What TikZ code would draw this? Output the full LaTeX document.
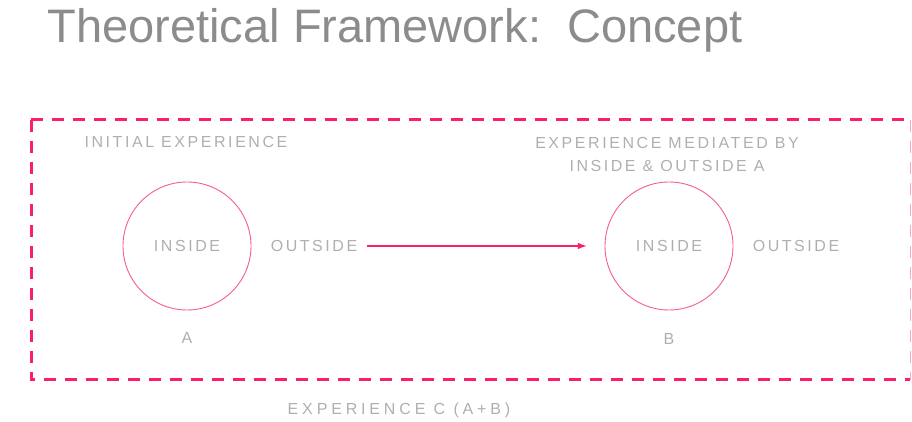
\documentclass[tikz,border=0pt]{standalone}
\usepackage{fontspec}
\setmainfont{Liberation Sans}
\newfontfamily\cadfont[LetterSpace=16]{Liberation Sans}
\newfontfamily\widecadfont[LetterSpace=24]{Liberation Sans}
\usepackage{xcolor}
\usetikzlibrary{arrows}
\definecolor{cadpink}{RGB}{250,30,110}
\definecolor{circpink}{RGB}{245,95,135}
\definecolor{cadgray}{RGB}{175,175,175}
\definecolor{titlegray}{RGB}{140,140,140}

\begin{document}
\begin{tikzpicture}[x=1pt,y=1pt]
	\useasboundingbox (0,0) rectangle (912,422);
	\draw (395,392) node[text=titlegray,font=\fontsize{47}{52}\selectfont] (title) {Theoretical Framework:\ \ Concept};
	% frame of experience C
	\draw[cadpink,line width=3pt,dash pattern=on 12pt off 9pt] (31,302) -- (31,42) -- (910,42);
	\draw[cadpink,line width=3pt,dash pattern=on 12pt off 9pt] (31,302) -- (910,302);
	\draw[cadpink!40,line width=0.8pt,dash pattern=on 12pt off 9pt] (910,302) -- (910,42);
	\tikzstyle{every node}=[text=cadgray,font=\cadfont\fontsize{16}{19}\selectfont,inner sep=0pt];
	\node (initial) at (186,280) {INITIAL EXPERIENCE};
	\node[align=center] (mediated) at (667,268) {EXPERIENCE MEDIATED BY\\[4pt]INSIDE \& OUTSIDE A};
	\node (outA) at (314,176) {OUTSIDE};
	\node (outB) at (796,176) {OUTSIDE};
	\node (labA) at (187,84) {A};
	\node (labB) at (669,83) {B};
	\node[font=\widecadfont\fontsize{16}{19}\selectfont] (expC) at (399,12) {EXPERIENCE C (A+B)};
	\tikzstyle{every node}=[draw=circpink,line width=0.9pt,shape=circle,minimum size=128pt,text=cadgray,font=\cadfont\fontsize{16}{19}\selectfont,inner sep=0pt];
	\node (inA) at (187,176) {INSIDE};
	\node (inB) at (669,176) {INSIDE};
	\draw[cadpink,line width=2pt,-latex,shorten <=10pt,shorten >=18pt] (outA) -- (inB);
\end{tikzpicture}
\end{document}
